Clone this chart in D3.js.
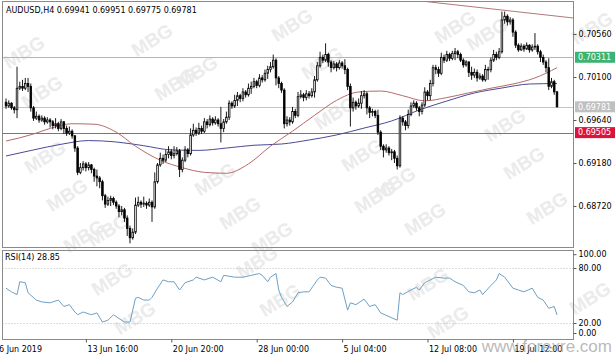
<!DOCTYPE html>
<html><head><meta charset="utf-8">
<script src="https://cdn.jsdelivr.net/npm/d3@7"></script>
<style>html,body{margin:0;padding:0;background:#fff;overflow:hidden}svg{display:block}</style>
</head><body>
<svg id="c" width="615" height="357"></svg>
<script>
// ---------------- DATA ----------------
const symbolTitle = "AUDUSD,H4";
const lastOHLC = [0.69941, 0.69951, 0.69775, 0.69781];
const firstOpen = 0.6983;
const closes = [
0.6979,0.6982,0.6977,0.6975,0.6998,0.7000,0.6998,0.7003,0.7000,0.6977,
0.6966,0.6968,0.6964,0.6966,0.6962,0.6964,0.6962,0.6958,0.6960,0.6955,
0.6962,0.6955,0.6950,0.6952,0.6947,0.6934,0.6908,0.6913,0.6917,0.6913,
0.6916,0.6911,0.6904,0.6902,0.6898,0.6883,0.6874,0.6878,0.6880,0.6876,
0.6872,0.6866,0.6868,0.6859,0.6848,0.6838,0.6844,0.6873,0.6876,0.6874,
0.6875,0.6873,0.6876,0.6871,0.6898,0.6916,0.6923,0.6921,0.6927,0.6930,
0.6926,0.6928,0.6931,0.6911,0.6921,0.6932,0.6928,0.6948,0.6953,0.6950,
0.6955,0.6952,0.6962,0.6959,0.6965,0.6961,0.6964,0.6960,0.6955,0.6962,
0.6967,0.6982,0.6979,0.6985,0.6990,0.6987,0.6994,0.6991,0.6998,0.7000,
0.7005,0.7001,0.7009,0.7007,0.7014,0.7018,0.7021,0.7028,0.7009,0.7003,
0.6996,0.6960,0.6964,0.6962,0.6973,0.6969,0.6989,0.6991,0.6988,0.6992,
0.6990,0.6994,0.7007,0.7022,0.7031,0.7028,0.7034,0.7026,0.7020,0.7024,
0.7020,0.7025,0.7022,0.7018,0.7000,0.6977,0.6983,0.6979,0.6982,0.6990,
0.6992,0.6977,0.6972,0.6973,0.6969,0.6951,0.6936,0.6932,0.6934,0.6929,
0.6930,0.6923,0.6915,0.6966,0.6962,0.6958,0.6970,0.6979,0.6982,0.6977,
0.6973,0.6980,0.6994,0.6990,0.7003,0.7020,0.7018,0.7014,0.7031,0.7028,
0.7034,0.7030,0.7035,0.7037,0.7034,0.7028,0.7023,0.7026,0.7015,0.7012,
0.7015,0.7009,0.7011,0.7007,0.7018,0.7018,0.7028,0.7034,0.7031,0.7037,
0.7071,0.7075,0.7069,0.7071,0.7058,0.7044,0.7039,0.7043,0.7040,0.7044,
0.7039,0.7042,0.7043,0.7037,0.7031,0.7026,0.7020,0.7000,0.7005,0.69941,
0.69781];
const highs = [
0.6987,0.6985,0.6983,0.6979,0.7021,0.7005,0.7007,0.7009,0.7009,0.7003,
0.6979,0.6973,0.6970,0.6969,0.6968,0.6967,0.6966,0.6964,0.6966,0.6962,
0.6965,0.6963,0.6958,0.6957,0.6954,0.6948,0.6936,0.6918,0.6920,0.6919,
0.6919,0.6917,0.6913,0.6911,0.6904,0.6900,0.6885,0.6882,0.6883,0.6882,
0.6878,0.6874,0.6872,0.6870,0.6862,0.6851,0.6848,0.6881,0.6882,0.6878,
0.6882,0.6877,0.6880,0.6878,0.6908,0.6918,0.6929,0.6927,0.6932,0.6936,
0.6933,0.6936,0.6935,0.6933,0.6924,0.6936,0.6934,0.6955,0.6960,0.6956,
0.6961,0.6958,0.6966,0.6965,0.6969,0.6967,0.6968,0.6966,0.6978,0.6965,
0.6973,0.6985,0.6984,0.6991,0.6994,0.6992,0.6998,0.6996,0.7003,0.7005,
0.7009,0.7007,0.7013,0.7012,0.7018,0.7022,0.7026,0.7034,0.7030,0.7011,
0.7005,0.6998,0.6968,0.6967,0.6978,0.6976,0.6994,0.6996,0.6993,0.6996,
0.6995,0.6998,0.7011,0.7026,0.7037,0.7034,0.7046,0.7036,0.7028,0.7027,
0.7026,0.7028,0.7027,0.7029,0.7020,0.7003,0.6988,0.6985,0.6987,0.6995,
0.6996,0.6994,0.6979,0.6976,0.6975,0.6975,0.6953,0.6938,0.6938,0.6936,
0.6933,0.6932,0.6926,0.6969,0.6968,0.6964,0.6975,0.6983,0.6985,0.6984,
0.6979,0.6983,0.6999,0.6996,0.7007,0.7023,0.7023,0.7021,0.7036,0.7034,
0.7038,0.7036,0.7038,0.7041,0.7039,0.7036,0.7030,0.7028,0.7027,0.7021,
0.7019,0.7018,0.7014,0.7013,0.7023,0.7021,0.7031,0.7039,0.7037,0.7041,
0.7080,0.7080,0.7077,0.7074,0.7073,0.7060,0.7046,0.7046,0.7045,0.7047,
0.7045,0.7045,0.7057,0.7045,0.7039,0.7034,0.7028,0.7030,0.7009,0.7007,
0.69951];
const lows = [
0.6976,0.6977,0.6975,0.6971,0.6966,0.6996,0.6995,0.6996,0.6994,0.6973,
0.6963,0.6964,0.6961,0.6962,0.6959,0.6960,0.6956,0.6954,0.6955,0.6952,
0.6953,0.6949,0.6947,0.6948,0.6944,0.6930,0.6905,0.6906,0.6910,0.6909,
0.6910,0.6907,0.6898,0.6893,0.6891,0.6878,0.6870,0.6872,0.6872,0.6873,
0.6869,0.6860,0.6862,0.6855,0.6840,0.6832,0.6836,0.6842,0.6871,0.6870,
0.6871,0.6869,0.6871,0.6855,0.6869,0.6896,0.6914,0.6917,0.6919,0.6923,
0.6922,0.6923,0.6926,0.6903,0.6908,0.6919,0.6924,0.6926,0.6946,0.6947,
0.6948,0.6949,0.6950,0.6955,0.6957,0.6958,0.6959,0.6957,0.6940,0.6951,
0.6960,0.6964,0.6976,0.6977,0.6979,0.6983,0.6984,0.6988,0.6989,0.6992,
0.6998,0.6998,0.6999,0.7004,0.7005,0.7008,0.7015,0.7019,0.7001,0.6998,
0.6993,0.6955,0.6957,0.6958,0.6960,0.6966,0.6967,0.6987,0.6984,0.6985,
0.6987,0.6988,0.6988,0.7005,0.7020,0.7025,0.7026,0.7021,0.7015,0.7018,
0.7016,0.7018,0.7019,0.7013,0.6996,0.6957,0.6973,0.6975,0.6977,0.6976,
0.6987,0.6970,0.6966,0.6968,0.6966,0.6948,0.6932,0.6924,0.6929,0.6926,
0.6921,0.6918,0.6911,0.6913,0.6958,0.6953,0.6955,0.6968,0.6977,0.6974,
0.6968,0.6970,0.6978,0.6985,0.6985,0.7000,0.7013,0.7010,0.7012,0.7025,
0.7026,0.7027,0.7028,0.7028,0.7030,0.7026,0.7020,0.7021,0.7010,0.7007,
0.7009,0.7005,0.7007,0.7005,0.7005,0.7007,0.7015,0.7026,0.7028,0.7029,
0.7035,0.7067,0.7065,0.7066,0.7053,0.7041,0.7037,0.7038,0.7037,0.7039,
0.7036,0.7037,0.7039,0.7034,0.7026,0.7023,0.7015,0.6996,0.6998,0.6991,
0.69775];

const priceTicks = [0.70560, 0.70100, 0.69640, 0.69180, 0.68720];
const levelPrices = [0.70311, 0.69781, 0.69505]; // resistance, bid, support
const trendBars = [150, 206];
const trendPrices = [0.70915, 0.70731];

const maFastBars = [0,10,16,24,32,40,47,56,64,72,80,88,96,104,112,120,128,136,144,152,160,168,176,184,192,196,200];
const maFastValues = [0.69415,0.6949,0.6955,0.6960,0.69595,0.6951,0.6936,0.6921,0.6913,0.6908,0.6907,0.6917,0.6936,0.6952,0.6969,0.6985,0.6994,0.6995,0.6990,0.69845,0.6988,0.6993,0.6998,0.70025,0.7009,0.7014,0.7020];
const maSlowBars = [0,10,20,30,40,50,60,70,80,90,100,110,120,130,140,150,160,170,180,190,200];
const maSlowValues = [0.69255,0.6932,0.6938,0.6942,0.69405,0.69365,0.6932,0.69315,0.6934,0.6937,0.69383,0.69426,0.6948,0.69554,0.6963,0.69747,0.69843,0.69929,0.69982,0.70025,0.7003];

const rsiLabel = "RSI(14) 28.85";
const rsiBars = [0,2,4,5,7,8,11,13,16,19,21,23,25,26,28,31,33,35,37,39,41,43,45,47,48,50,52,53,55,57,59,61,63,65,68,69,72,75,78,79,83,86,89,92,93,95,96,98,99,100,102,104,106,108,110,113,114,116,118,120,122,124,125,127,130,132,134,136,139,142,143,144,147,149,150,152,154,156,159,161,163,166,168,170,172,173,176,178,179,181,184,186,188,191,193,195,197,199,200];
const rsiValues = [58,54,51,65,64,53,45,43,42,45,38,40,32,29,32,29,31,21,23,29,25,21,21,47,48,45,45,48,58,67,65,65,56,64,67,70,67,70,65,72,70,70,72,74,72,65,70,74,56,48,38,43,53,54,54,67,70,69,61,59,58,34,42,40,46,38,40,31,27,23,53,51,56,59,56,64,67,70,69,69,65,61,54,53,56,51,61,67,74,70,58,56,54,58,48,45,36,38,28.85];
const rsiTicks = [100, 80, 20, 0];
const rsiLevels = [80, 20];

const firstDateLabel = "6 Jun 2019";
const timeTickBars = [29, 60, 91, 122, 153, 184];
const timeTickLabels = ["13 Jun 16:00","20 Jun 20:00","28 Jun 00:00","5 Jul 04:00","12 Jul 08:00","19 Jul 12:00"];
const siteMark = "www.forexre.com";
const wmText = "MBG";

// ---------------- LAYOUT ----------------
const FONT = "DejaVu Sans, Verdana, sans-serif";
const svg = d3.select("#c");
const M = {l:2.5, r:573.5, t:1.5, b:247.5};
const S = {t:250.5, b:339.5};
const opens = [firstOpen].concat(closes.slice(0, -1));
const bars = closes.map((c,i)=>({i, o:opens[i], h:highs[i], l:lows[i], c}));

const x = d3.scaleLinear().domain([0,200]).range([6,557]);
const y = d3.scaleLinear().domain([0.68720,0.70560]).range([206,34]);
const yr = d3.scaleLinear().domain([0,100]).range([341.3,249.7]);

const defs = svg.append("defs");
defs.append("clipPath").attr("id","cm").append("rect").attr("x",M.l).attr("y",M.t).attr("width",M.r-M.l).attr("height",M.b-M.t);
defs.append("clipPath").attr("id","cs").append("rect").attr("x",M.l).attr("y",S.t).attr("width",M.r-M.l).attr("height",S.b-S.t);

svg.append("rect").attr("width",615).attr("height",357).attr("fill","#fff");

// watermarks (behind)
const wm = svg.append("g").attr("fill","#ebebeb").attr("font-family","Liberation Sans, Arial, sans-serif").attr("font-weight","bold").attr("font-size",19);
[[24,52],[42,92],[45,157],[67,195],[84,236],[152,40],[175,84],[108,230],[292,25],[197,72],[215,179],[240,213],[272,238],[322,63],[335,113],[362,155],[375,197],[455,27],[395,183],[425,219],[487,34],[505,125],[524,163],[547,208],[592,28],[112,279],[135,318],[257,262],[280,300],[428,284],[448,322],[590,298]].forEach(p=>{
  wm.append("text").attr("transform",`translate(${p[0]},${p[1]}) rotate(-32)`).attr("text-anchor","middle").attr("dy","0.35em").text(wmText);
});

// panel frames
svg.append("rect").attr("x",M.l).attr("y",M.t).attr("width",M.r-M.l).attr("height",M.b-M.t).attr("fill","none").attr("stroke","#8a8a8a");
svg.append("rect").attr("x",M.l).attr("y",S.t).attr("width",M.r-M.l).attr("height",S.b-S.t).attr("fill","none").attr("stroke","#8a8a8a");

// ---------- main panel ----------
const gm = svg.append("g").attr("clip-path","url(#cm)");
const levelColors = ["#9cc4aa","#c4c4c4","#a8606a"];
levelPrices.forEach((p,k)=>{
  gm.append("line").attr("x1",M.l).attr("x2",M.r).attr("y1",Math.round(y(p))+0.5).attr("y2",Math.round(y(p))+0.5).attr("stroke",levelColors[k]).attr("stroke-width",1);
});
gm.append("line").attr("x1",x(trendBars[0])).attr("x2",x(trendBars[1])).attr("y1",y(trendPrices[0])).attr("y2",y(trendPrices[1])).attr("stroke","#b47878").attr("stroke-width",1);

const lineMA = d3.line().x(d=>x(d[0])).y(d=>y(d[1])).curve(d3.curveMonotoneX);
gm.append("path").attr("d",lineMA(maSlowBars.map((b,k)=>[b,maSlowValues[k]]))).attr("fill","none").attr("stroke","#4a4a96").attr("stroke-width",1);
gm.append("path").attr("d",lineMA(maFastBars.map((b,k)=>[b,maFastValues[k]]))).attr("fill","none").attr("stroke","#b56a6a").attr("stroke-width",1);

const cg = gm.append("g");
cg.selectAll("line.w").data(bars).join("line").attr("class","w")
  .attr("x1",d=>x(d.i)).attr("x2",d=>x(d.i)).attr("y1",d=>y(d.h)).attr("y2",d=>y(d.l))
  .attr("stroke","#000").attr("stroke-width",0.9);
cg.selectAll("rect.b").data(bars).join("rect").attr("class","b")
  .attr("x",d=>x(d.i)-0.8).attr("width",1.6)
  .attr("y",d=>y(Math.max(d.o,d.c)))
  .attr("height",d=>Math.max(0.6, Math.abs(y(d.o)-y(d.c))))
  .attr("fill",d=>d.c>=d.o?"#fff":"#000").attr("stroke","#000").attr("stroke-width",0.8);

// title
svg.append("text").attr("x",6).attr("y",13).attr("font-family",FONT).attr("font-size",8).attr("fill","#000")
  .text(symbolTitle + "  " + lastOHLC.map(v=>v.toFixed(5)).join(" "));

// price axis
const ax = svg.append("g").attr("transform",`translate(${M.r},0)`)
  .call(d3.axisRight(y).tickValues(priceTicks).tickSize(3).tickPadding(2).tickFormat(d3.format(".5f")));
ax.select(".domain").remove();
ax.selectAll("line").attr("stroke","#555");
ax.selectAll("text").attr("font-family",FONT).attr("font-size",8).attr("fill","#000");

// level labels
const levelFill = ["#3cb371","#c0c0c0","#dc143c"];
levelPrices.forEach((p,k)=>{
  const yy = y(p);
  svg.append("rect").attr("x",575).attr("y",yy-5.5).attr("width",40).attr("height",11).attr("fill",levelFill[k]);
  svg.append("text").attr("x",578).attr("y",yy).attr("dy","0.35em").attr("font-family",FONT).attr("font-size",8).attr("fill","#fff").text(p.toFixed(5));
});

// ---------- RSI panel ----------
const gs = svg.append("g").attr("clip-path","url(#cs)");
rsiLevels.forEach(v=>{
  gs.append("line").attr("x1",M.l).attr("x2",M.r).attr("y1",Math.round(yr(v))+0.5).attr("y2",Math.round(yr(v))+0.5)
    .attr("stroke","#bdbdbd").attr("stroke-dasharray","1,2");
});
const lineR = d3.line().x(d=>x(d[0])).y(d=>yr(d[1]));
gs.append("path").attr("d",lineR(rsiBars.map((b,k)=>[b,rsiValues[k]]))).attr("fill","none").attr("stroke","#6e9fc2").attr("stroke-width",1);
svg.append("text").attr("x",5).attr("y",260).attr("font-family",FONT).attr("font-size",8).attr("fill","#000").text(rsiLabel);

const ar = svg.append("g").attr("transform",`translate(${M.r},0)`)
  .call(d3.axisRight(yr).tickValues(rsiTicks).tickSize(3).tickPadding(2).tickFormat(d3.format(".2f")));
ar.select(".domain").remove();
ar.selectAll("line").attr("stroke","#555");
ar.selectAll("text").attr("font-family",FONT).attr("font-size",8).attr("fill","#000");
ar.selectAll(".tick").filter(d=>d===100).attr("transform",`translate(0,${yr(100)+5})`);
ar.selectAll(".tick").filter(d=>d===0).attr("transform",`translate(0,${S.b-6})`);

// ---------- time axis ----------
const at = svg.append("g").attr("transform",`translate(0,${S.b})`)
  .call(d3.axisBottom(x).tickValues(timeTickBars).tickSize(3).tickFormat((d,k)=>timeTickLabels[k]));
at.select(".domain").remove();
at.selectAll("line").attr("stroke","#555");
at.selectAll("text").attr("text-anchor","start").attr("dx",1).attr("y",7)
  .attr("font-family",FONT).attr("font-size",8).attr("fill","#000");
svg.append("text").attr("x",-1).attr("y",S.b+7).attr("dy","0.71em").attr("font-family",FONT).attr("font-size",8).attr("fill","#000").text(firstDateLabel);

// site watermark
svg.append("text").attr("x",612).attr("y",352).attr("text-anchor","end").attr("font-family","Liberation Sans, Arial, sans-serif")
  .attr("font-size",17).attr("fill","#9a9a9a").attr("fill-opacity",0.7).text(siteMark);
</script>
</body></html>
